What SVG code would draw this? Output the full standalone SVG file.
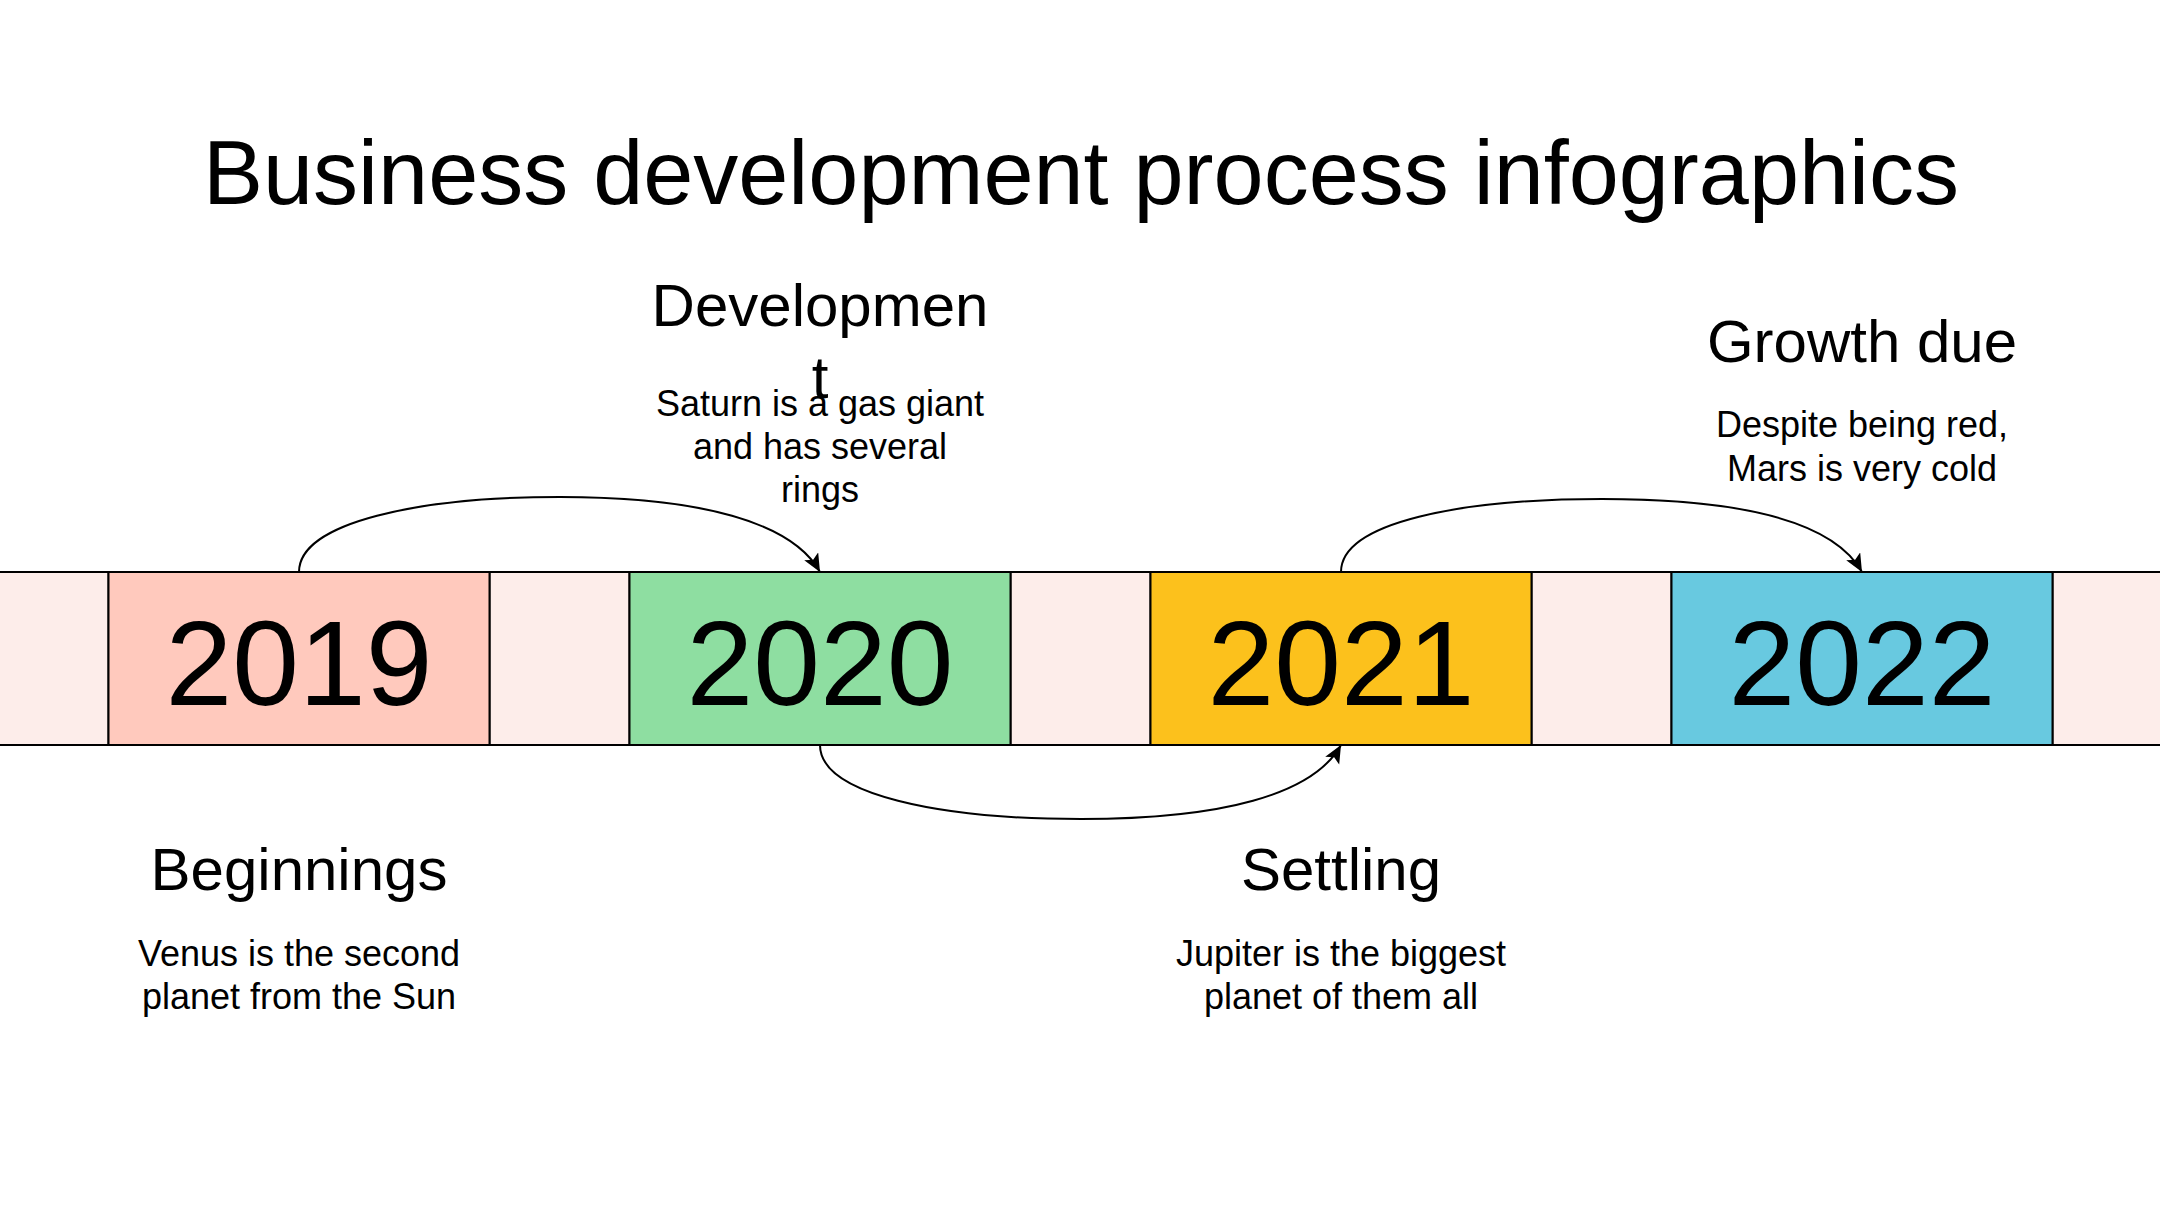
<svg xmlns="http://www.w3.org/2000/svg" width="2160" height="1215" viewBox="0 0 2160 1215">
<defs>
<style>
text{font-family:"Liberation Sans",Arial,sans-serif;fill:#000;text-anchor:middle}
.title{font-size:90px}
.year{font-size:120px}
.head{font-size:60px}
.desc{font-size:36px}
.pale{fill:#FDEDEA;stroke:#000;stroke-width:2}
.box{stroke:#000;stroke-width:2}
.conn{fill:none;stroke:#000;stroke-width:2}
</style>
<marker id="arr" markerUnits="userSpaceOnUse" markerWidth="22" markerHeight="18" refX="18" refY="8" orient="auto" viewBox="0 0 22 18">
<path d="M0,0 L18,8 L0,16 L4,8 Z" fill="#000"/>
</marker>
</defs>
<rect width="2160" height="1215" fill="#fff"/>
<text class="title" x="1081" y="204">Business development process infographics</text>

<g id="band">
<rect class="pale" x="-10" y="572" width="118.5" height="173"/>
<rect class="pale" x="489.5" y="572" width="140" height="173"/>
<rect class="pale" x="1010.5" y="572" width="140" height="173"/>
<rect class="pale" x="1531.5" y="572" width="140" height="173"/>
<rect class="pale" x="2052.5" y="572" width="130" height="173"/>
</g>

<g id="node-2019">
<rect class="box" x="108.5" y="572" width="381" height="173" fill="#FFC9BD"/>
<text class="year" x="299" y="705">2019</text>
<text class="head" x="299" y="890">Beginnings</text>
<text class="desc" x="299" y="966">Venus is the second</text>
<text class="desc" x="299" y="1009">planet from the Sun</text>
</g>

<g id="node-2020">
<rect class="box" x="629.5" y="572" width="381" height="173" fill="#8EDEA1"/>
<text class="year" x="820" y="705">2020</text>
<text class="head" x="820" y="326">Developmen</text>
<text class="head" x="820" y="398">t</text>
<text class="desc" x="820" y="416">Saturn is a gas giant</text>
<text class="desc" x="820" y="459">and has several</text>
<text class="desc" x="820" y="502">rings</text>
</g>

<g id="node-2021">
<rect class="box" x="1150.5" y="572" width="381" height="173" fill="#FCC11C"/>
<text class="year" x="1341" y="705">2021</text>
<text class="head" x="1341" y="890">Settling</text>
<text class="desc" x="1341" y="966">Jupiter is the biggest</text>
<text class="desc" x="1341" y="1009">planet of them all</text>
</g>

<g id="node-2022">
<rect class="box" x="1671.5" y="572" width="381" height="173" fill="#68C9E0"/>
<text class="year" x="1862" y="705">2022</text>
<text class="head" x="1862" y="362">Growth due</text>
<text class="desc" x="1862" y="437">Despite being red,</text>
<text class="desc" x="1862" y="481">Mars is very cold</text>
</g>

<g id="connectors">
<path class="conn" marker-end="url(#arr)" d="M299,572 C299,522 420,497 560,497 C700,497 792,522 820,572"/>
<path class="conn" marker-end="url(#arr)" d="M820,745 C820,795 941,819 1081,819 C1221,819 1313,795 1341,745"/>
<path class="conn" marker-end="url(#arr)" d="M1341,572 C1341,522 1462,499 1602,499 C1742,499 1834,522 1862,572"/>
</g>
</svg>
